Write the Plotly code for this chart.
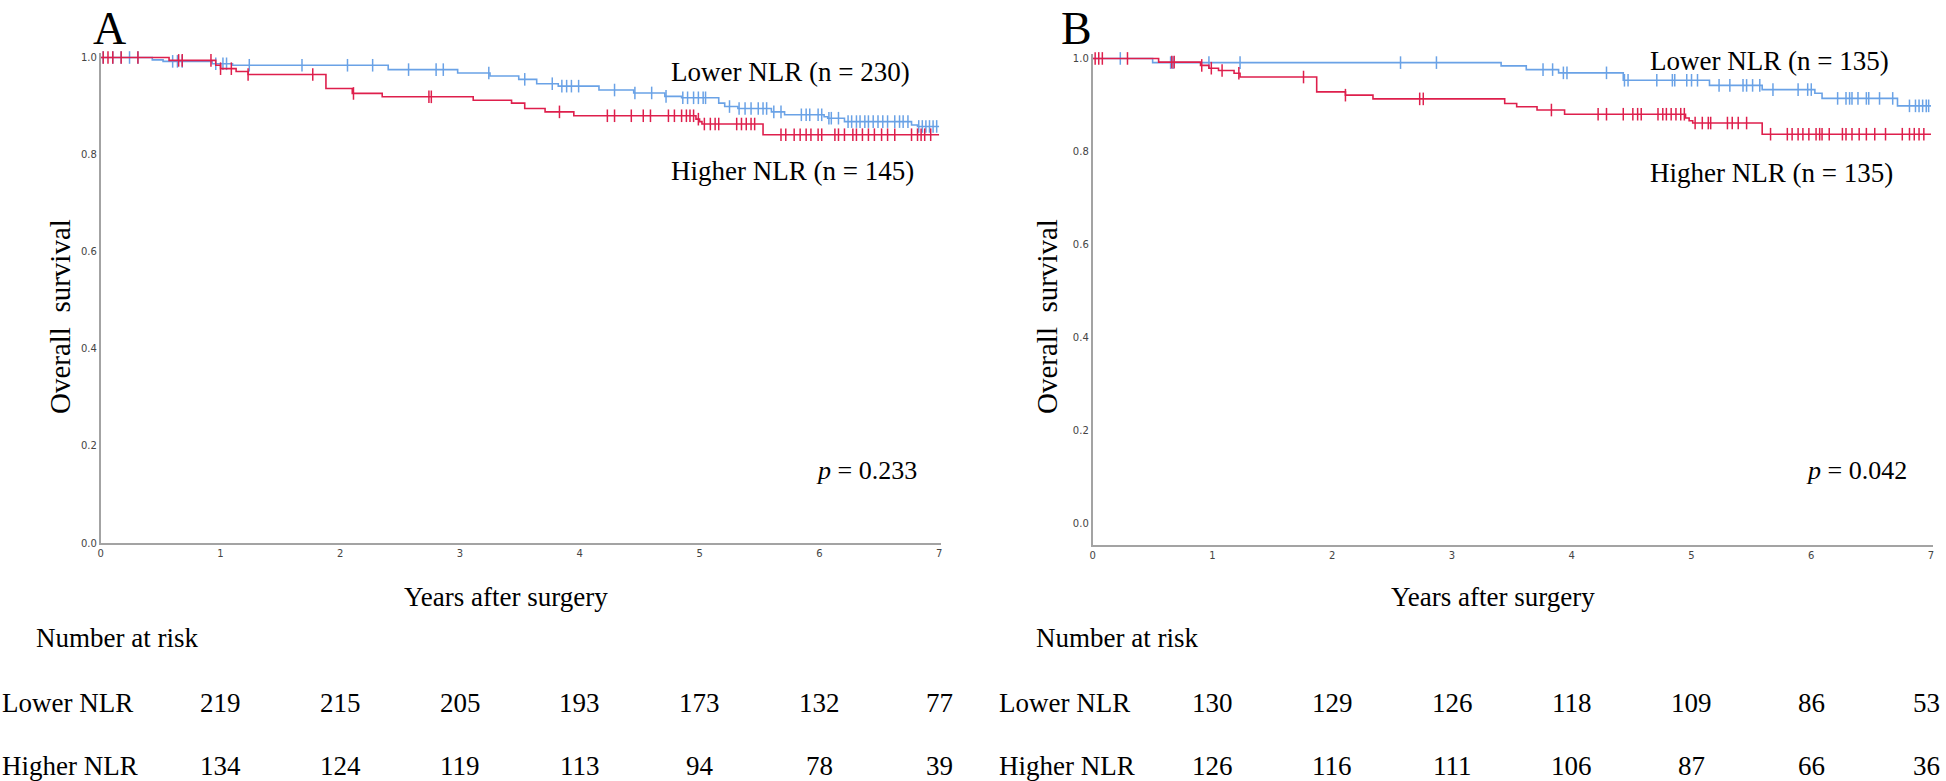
import plotly.graph_objects as go
import numpy as np

W, H = 1946, 781
SERIF = "Times New Roman, Liberation Serif, serif"
BLUE = "#6AA2E6"
RED = "#DE1F4C"

# ---------------- Panel A data ----------------
a_low_t = [0, 0.43, 0.52, 0.93, 1.10, 2.40, 2.98, 3.25, 3.49, 3.64, 3.82, 4.16, 4.45, 4.71, 4.85,
           5.16, 5.21, 5.32, 5.60, 5.71, 6.04, 6.07, 6.21, 6.77, 6.82, 7.0]
a_low_s = [1.0, 0.995, 0.992, 0.987, 0.984, 0.975, 0.968, 0.962, 0.955, 0.946, 0.941, 0.933, 0.927, 0.920, 0.917,
           0.906, 0.899, 0.895, 0.888, 0.882, 0.878, 0.875, 0.868, 0.861, 0.858, 0.858]
a_low_cens = [0.02, 0.10, 0.17, 0.24, 0.31, 0.60, 0.64, 0.68, 0.96, 1.02, 1.05, 1.24, 1.68, 2.06, 2.27, 2.57,
              2.80, 2.86, 3.24, 3.54, 3.77, 3.85, 3.89, 3.93, 3.99, 4.29, 4.46, 4.60, 4.72, 4.86, 4.90, 4.95,
              4.99, 5.03, 5.05, 5.25, 5.33, 5.38, 5.43, 5.49, 5.53, 5.56, 5.62, 5.68, 5.85, 5.89, 5.92, 5.99,
              6.02, 6.08, 6.10, 6.16, 6.24, 6.27, 6.31, 6.34, 6.38, 6.41, 6.45, 6.49, 6.53, 6.57, 6.63, 6.67,
              6.70, 6.74, 6.83, 6.86, 6.89, 6.92, 6.95, 6.98]

a_high_t = [0, 0.57, 0.96, 1.00, 1.13, 1.23, 1.88, 2.10, 2.35, 3.11, 3.43, 3.54, 3.71, 3.95,
            4.97, 5.00, 5.02, 5.53, 7.0]
a_high_s = [1.0, 0.994, 0.984, 0.977, 0.971, 0.965, 0.936, 0.926, 0.919, 0.912, 0.906, 0.895, 0.888, 0.880,
            0.873, 0.868, 0.863, 0.841, 0.841]
a_high_cens = [0.02, 0.06, 0.10, 0.17, 0.31, 0.65, 0.68, 0.92, 1.00, 1.09, 1.23, 1.77, 2.11, 2.74, 2.76,
               3.83, 4.23, 4.29, 4.43, 4.53, 4.59, 4.74, 4.79, 4.85, 4.89, 4.92, 4.95, 4.99, 5.04, 5.09,
               5.13, 5.16, 5.31, 5.35, 5.39, 5.43, 5.46, 5.68, 5.72, 5.79, 5.84, 5.89, 5.93, 5.99, 6.02,
               6.13, 6.16, 6.21, 6.28, 6.31, 6.36, 6.41, 6.46, 6.52, 6.57, 6.63, 6.77, 6.82, 6.85, 6.88, 6.93]

# ---------------- Panel B data ----------------
b_low_t = [0, 0.50, 3.41, 3.62, 3.89, 4.43, 5.15, 5.59, 6.03, 6.09, 6.72, 7.0]
b_low_s = [1.0, 0.991, 0.984, 0.976, 0.969, 0.953, 0.942, 0.933, 0.925, 0.914, 0.898, 0.898]
b_low_cens = [0.23, 0.65, 0.67, 0.97, 1.23, 2.57, 2.87, 3.76, 3.84, 3.93, 3.96, 4.29, 4.44, 4.47, 4.71,
              4.84, 4.86, 4.96, 5.00, 5.05, 5.23, 5.32, 5.43, 5.46, 5.51, 5.57, 5.68, 5.89, 5.97, 6.00,
              6.22, 6.29, 6.32, 6.34, 6.39, 6.46, 6.48, 6.57, 6.68, 6.82, 6.87, 6.90, 6.93, 6.96, 6.98]

b_high_t = [0, 0.55, 0.90, 0.97, 1.05, 1.18, 1.23, 1.87, 2.11, 2.34, 3.44, 3.54, 3.71, 3.94,
            4.95, 4.98, 5.01, 5.59, 7.0]
b_high_s = [1.0, 0.992, 0.985, 0.979, 0.974, 0.968, 0.960, 0.928, 0.921, 0.913, 0.903, 0.896, 0.889, 0.880,
            0.872, 0.866, 0.861, 0.837, 0.837]
b_high_cens = [0.02, 0.05, 0.08, 0.29, 0.66, 0.68, 0.91, 0.99, 1.08, 1.22, 1.76, 2.11, 2.73, 2.76, 3.83,
               4.22, 4.29, 4.43, 4.51, 4.55, 4.58, 4.72, 4.76, 4.79, 4.83, 4.87, 4.91, 4.94, 5.03, 5.09,
               5.14, 5.16, 5.30, 5.34, 5.39, 5.46, 5.66, 5.80, 5.84, 5.89, 5.93, 5.98, 6.04, 6.07, 6.09,
               6.15, 6.26, 6.29, 6.34, 6.40, 6.46, 6.53, 6.62, 6.76, 6.82, 6.86, 6.90, 6.94]

# ---------------- Number at risk ----------------
risk_years = [1, 2, 3, 4, 5, 6, 7]
a_risk_low = [219, 215, 205, 193, 173, 132, 77]
a_risk_high = [134, 124, 119, 113, 94, 78, 39]
b_risk_low = [130, 129, 126, 118, 109, 86, 53]
b_risk_high = [126, 116, 111, 106, 87, 66, 36]

a_labels = ["Lower NLR (n = 230)", "Higher NLR (n = 145)"]
b_labels = ["Lower NLR (n = 135)", "Higher NLR (n = 135)"]
p_a, p_b = "0.233", "0.042"
x_ticks = [0, 1, 2, 3, 4, 5, 6, 7]
y_ticks = [0.0, 0.2, 0.4, 0.6, 0.8, 1.0]


def surv_at(times, surv, t):
    idx = np.searchsorted(np.array(times), t, side="right") - 1
    return surv[max(idx, 0)]


def fx(px):
    return px / W


def fy(py):
    return 1 - py / H


fig = go.Figure()


def add_curve(times, surv, cens, color, xa, ya):
    fig.add_trace(go.Scatter(x=times, y=surv, mode="lines", line=dict(color=color, width=1.6, shape="hv"),
                             xaxis=xa, yaxis=ya, showlegend=False, hoverinfo="skip"))
    cy = [surv_at(times, surv, c) for c in cens]
    fig.add_trace(go.Scatter(x=cens, y=cy, mode="markers",
                             marker=dict(symbol="line-ns", size=9, line=dict(color=color, width=1.5)),
                             xaxis=xa, yaxis=ya, showlegend=False, hoverinfo="skip", cliponaxis=False))


add_curve(a_low_t, a_low_s, a_low_cens, BLUE, "x", "y")
add_curve(a_high_t, a_high_s, a_high_cens, RED, "x", "y")
add_curve(b_low_t, b_low_s, b_low_cens, BLUE, "x2", "y2")
add_curve(b_high_t, b_high_s, b_high_cens, RED, "x2", "y2")

axis_common = dict(showgrid=False, zeroline=False, showline=True, linecolor="#a3a3a3", linewidth=2,
                   ticks="", tickfont=dict(family="DejaVu Sans", size=10, color="#444444"))

A_left, B_left, PPY = 98, 1092, 120
fig.update_layout(
    width=W, height=H, margin=dict(l=0, r=0, t=0, b=0),
    paper_bgcolor="white", plot_bgcolor="white",
    xaxis=dict(domain=[fx(A_left), fx(A_left + 7.02 * PPY)], range=[0, 7.02], tickvals=x_ticks,
               anchor="y", **axis_common),
    yaxis=dict(domain=[fy(547), fy(547 - 1.01 * 490)], range=[0, 1.01], tickvals=y_ticks,
               tickformat=".1f", anchor="x", **axis_common),
    xaxis2=dict(domain=[fx(B_left), fx(B_left + 7.02 * PPY)], range=[0, 7.02], tickvals=x_ticks,
                anchor="y2", **axis_common),
    yaxis2=dict(domain=[fy(549), fy(549 - 1.057 * 469)], range=[-0.047, 1.01], tickvals=y_ticks,
                tickformat=".1f", anchor="x2", **axis_common),
)

ann = []


def text(x, y, s, size=27, xanchor="left", yanchor="middle", xref="paper", textangle=0, xshift=None):
    if xshift is None:
        xshift = -4 if xanchor == "left" else 0
    ann.append(dict(x=x, y=y, text=s, showarrow=False, xref=xref, yref="paper", xanchor=xanchor,
                    yanchor=yanchor, textangle=textangle, xshift=xshift,
                    font=dict(family=SERIF, size=size, color="black")))


# panel letters
text(fx(107), 1.0, "A", size=46, xanchor="center", yanchor="top")
text(fx(1076), 1.0, "B", size=46, xanchor="center", yanchor="top")
# curve labels
text(fx(671), fy(72), a_labels[0])
text(fx(671), fy(172), a_labels[1])
text(fx(1652), fy(61), b_labels[0])
text(fx(1652), fy(174), b_labels[1])
# p values
text(fx(918), fy(474), "<i>p</i> = " + p_a, size=26, xanchor="right")
text(fx(1910), fy(474), "<i>p</i> = " + p_b, size=26, xanchor="right")
# axis titles
text(fx(57), fy(318), "Overall\u00a0 survival", size=29, xanchor="center", textangle=-90)
text(fx(1046), fy(318), "Overall\u00a0 survival", size=29, xanchor="center", textangle=-90)
text(fx(504), fy(601), "Years after surgery", size=27, xanchor="center")
text(fx(1493), fy(601), "Years after surgery", size=27, xanchor="center")
# number at risk
text(fx(35), fy(643), "Number at risk")
text(fx(1037), fy(643), "Number at risk")
text(fx(0), fy(708), "Lower NLR", xshift=-3)
text(fx(0), fy(772), "Higher NLR", xshift=-3)
text(fx(1000), fy(708), "Lower NLR")
text(fx(1000), fy(772), "Higher NLR")
for yr, lo, hi in zip(risk_years, a_risk_low, a_risk_high):
    text(yr, fy(708), str(lo), xanchor="center", xref="x")
    text(yr, fy(772), str(hi), xanchor="center", xref="x")
for yr, lo, hi in zip(risk_years, b_risk_low, b_risk_high):
    sh = -5 if yr == 7 else 0
    text(yr, fy(708), str(lo), xanchor="center", xref="x2", xshift=sh)
    text(yr, fy(772), str(hi), xanchor="center", xref="x2", xshift=sh)

fig.update_layout(annotations=ann)
fig.write_html("out.html", config={"displayModeBar": False},
               post_script="document.body.style.margin='0';document.body.style.overflow='hidden';")
